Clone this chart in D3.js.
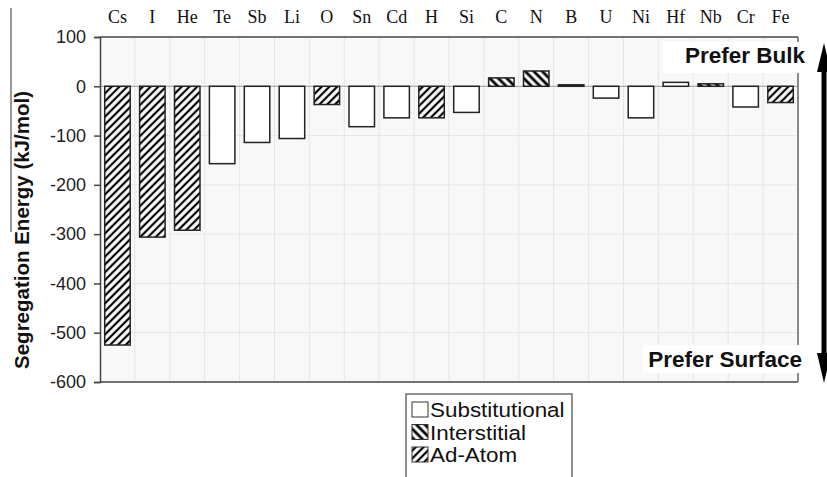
<!DOCTYPE html>
<html>
<head>
<meta charset="utf-8">
<script src="https://cdn.jsdelivr.net/npm/d3@7"></script>
<style>
  body { margin: 0; background: #fff; }
  svg { display: block; }
</style>
</head>
<body>
<div class="c_chart"></div>
<script>
/*DATA
------------------------------------------------------
*/
const elements = ["Cs","I","He","Te","Sb","Li","O","Sn","Cd","H","Si","C","N","B","U","Ni","Hf","Nb","Cr","Fe"];
const energies = [-525,-306,-292,-157,-114,-106,-37,-82,-64,-64,-53,17,31,3,-24,-64,8,5,-42,-33];
const siteTypes = ["Ad-Atom","Ad-Atom","Ad-Atom","Substitutional","Substitutional","Substitutional","Ad-Atom",
  "Substitutional","Substitutional","Ad-Atom","Substitutional","Interstitial","Interstitial","Interstitial",
  "Substitutional","Substitutional","Substitutional","Interstitial","Substitutional","Ad-Atom"];
const legendTypes = ["Substitutional","Interstitial","Ad-Atom"];
const yTicks = [100,0,-100,-200,-300,-400,-500,-600];

/*DIMENSIONS
------------------------------------------------------
*/
const width = 827, height = 477;
const plot = {left: 100, right: 798, top: 37, bottom: 382};

const svg = d3.select(".c_chart").append("svg")
  .attr("width", width)
  .attr("height", height);

const defs = svg.append("defs");
// hatch patterns
function hatch(id, angle, size, sw) {
  const p = defs.append("pattern")
    .attr("id", id)
    .attr("patternUnits", "userSpaceOnUse")
    .attr("width", size).attr("height", size)
    .attr("patternTransform", `rotate(${angle})`);
  p.append("rect").attr("width", size).attr("height", size).attr("fill", "#fff");
  p.append("line").attr("x1", size/2).attr("y1", 0).attr("x2", size/2).attr("y2", size)
    .attr("stroke", "#000").attr("stroke-width", sw);
}
hatch("adatom", 45, 5.5, 2.2);
hatch("inter", -45, 6, 2.8);

const fillFor = t => t === "Substitutional" ? "#fff" : (t === "Interstitial" ? "url(#inter)" : "url(#adatom)");

const x = d3.scaleBand()
  .domain(elements)
  .range([plot.left, plot.right])
  .paddingInner(0.27)
  .paddingOuter(0.135);

const y = d3.scaleLinear()
  .domain([-600, 100])
  .range([plot.bottom, plot.top]);

/*BACKGROUND + GRID
------------------------------------------------------
*/
svg.append("rect")
  .attr("x", plot.left).attr("y", plot.top)
  .attr("width", plot.right - plot.left).attr("height", plot.bottom - plot.top)
  .attr("fill", "#f8f8f8");

const step = x.step();
svg.append("g").selectAll("line")
  .data(elements.slice(1))
  .enter().append("line")
  .attr("x1", (d) => x(d) - x.paddingInner() * step / 2)
  .attr("x2", (d) => x(d) - x.paddingInner() * step / 2)
  .attr("y1", plot.top).attr("y2", plot.bottom)
  .attr("stroke", "#e6e6e6").attr("stroke-width", 1);

svg.append("g").selectAll("line")
  .data(yTicks.filter(d => d < 100 && d > -600))
  .enter().append("line")
  .attr("x1", plot.left).attr("x2", plot.right)
  .attr("y1", d => y(d)).attr("y2", d => y(d))
  .attr("stroke", d => d === 0 ? "#999" : "#e6e6e6").attr("stroke-width", 1);

/*BARS
------------------------------------------------------
*/
svg.append("g").selectAll("rect")
  .data(elements)
  .enter().append("rect")
  .attr("x", d => x(d))
  .attr("width", x.bandwidth())
  .attr("y", (d, i) => y(Math.max(0, energies[i])))
  .attr("height", (d, i) => Math.abs(y(energies[i]) - y(0)))
  .attr("fill", (d, i) => fillFor(siteTypes[i]))
  .attr("stroke", "#222")
  .attr("stroke-width", 1.5);

/*AXES
------------------------------------------------------
*/
const yAxis = svg.append("g")
  .attr("transform", `translate(${plot.left},0)`)
  .call(d3.axisLeft(y).tickValues(yTicks).tickSize(6).tickPadding(8).tickFormat(d => String(d)));
yAxis.select(".domain").attr("stroke", "#444").attr("stroke-width", 1.5);
yAxis.selectAll(".tick line").attr("stroke", "#444").attr("stroke-width", 1.5);
yAxis.selectAll(".tick text")
  .attr("font-family", "Liberation Sans, Arial, sans-serif")
  .attr("font-size", 18).attr("fill", "#222");

// top and bottom frame lines
svg.append("line").attr("x1", plot.left).attr("x2", plot.right)
  .attr("y1", y(100)).attr("y2", y(100)).attr("stroke", "#444").attr("stroke-width", 1.5);
svg.append("line").attr("x1", plot.left).attr("x2", plot.right)
  .attr("y1", y(-600)).attr("y2", y(-600)).attr("stroke", "#444").attr("stroke-width", 1.5);
svg.append("line").attr("x1", plot.right).attr("x2", plot.right)
  .attr("y1", y(-600)).attr("y2", y(100)).attr("stroke", "#666").attr("stroke-width", 1.5);

// category labels on top
svg.append("g").selectAll("text")
  .data(elements)
  .enter().append("text")
  .attr("x", d => x(d) + x.bandwidth() / 2)
  .attr("y", 23)
  .attr("text-anchor", "middle")
  .attr("font-family", "Liberation Serif, Times New Roman, serif")
  .attr("font-size", 18).attr("fill", "#111")
  .text(d => d);

// y title
svg.append("text")
  .attr("transform", "translate(29,230) rotate(-90)")
  .attr("text-anchor", "middle")
  .attr("font-family", "Liberation Sans, Arial, sans-serif")
  .attr("font-weight", "bold").attr("font-size", 20.5).attr("fill", "#111")
  .text("Segregation Energy (kJ/mol)");

// stray frame line on the left
svg.append("line").attr("x1", 11).attr("x2", 11).attr("y1", 8).attr("y2", 232)
  .attr("stroke", "#333").attr("stroke-width", 1);

/*ANNOTATIONS
------------------------------------------------------
*/
svg.append("rect").attr("x", 663).attr("y", 42).attr("width", 150).attr("height", 31).attr("fill", "#fff");
svg.append("rect").attr("x", 643).attr("y", 345).attr("width", 170).attr("height", 28).attr("fill", "#fff");

svg.append("text").attr("x", 805).attr("y", 63).attr("text-anchor", "end")
  .attr("font-family", "Liberation Sans, Arial, sans-serif")
  .attr("font-weight", "bold").attr("font-size", 22.5).attr("fill", "#111")
  .text("Prefer Bulk");
svg.append("text").attr("x", 802).attr("y", 367).attr("text-anchor", "end")
  .attr("font-family", "Liberation Sans, Arial, sans-serif")
  .attr("font-weight", "bold").attr("font-size", 22.5).attr("fill", "#111")
  .text("Prefer Surface");

// double arrow
const ax = 824;
svg.append("line").attr("x1", ax).attr("x2", ax).attr("y1", 60).attr("y2", 365)
  .attr("stroke", "#000").attr("stroke-width", 5);
svg.append("path")
  .attr("d", `M${ax},43 L${ax + 7},72 L${ax - 7},72 Z M${ax},383 L${ax + 7},353 L${ax - 7},353 Z`)
  .attr("fill", "#000");

/*LEGEND
------------------------------------------------------
*/
const legend = svg.append("g");
legend.append("rect").attr("x", 406).attr("y", 394).attr("width", 166).attr("height", 100)
  .attr("fill", "#fff").attr("stroke", "#555").attr("stroke-width", 1.3);
const rows = legend.selectAll("g.row")
  .data(legendTypes)
  .enter().append("g")
  .attr("transform", (d, i) => `translate(412,${402 + i * 22.5})`);
rows.append("rect").attr("width", 16).attr("height", 15)
  .attr("fill", d => fillFor(d)).attr("stroke", "#333").attr("stroke-width", 1);
// slightly condensed height so rows do not collide
rows.append("text")
  .attr("transform", "translate(18,15) scale(1.15,1)")
  .attr("font-family", "Liberation Sans, Arial, sans-serif")
  .attr("font-size", 19.5).attr("fill", "#111")
  .text(d => d);
</script>
</body>
</html>
